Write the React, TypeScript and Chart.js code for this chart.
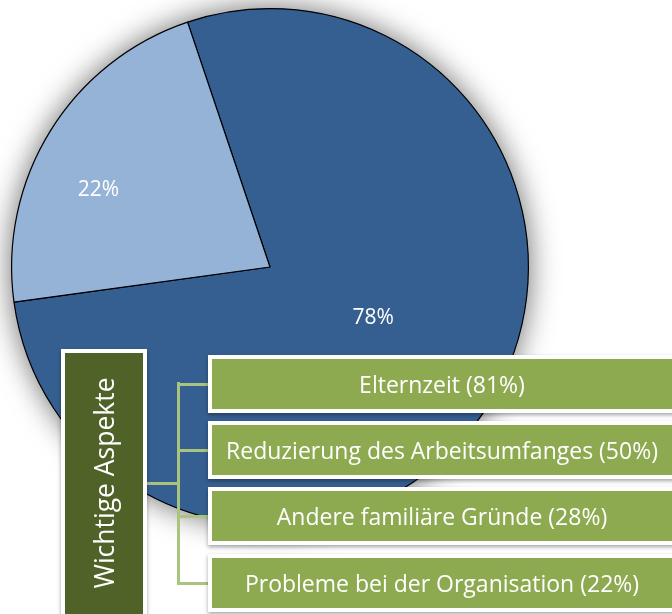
import React, { useEffect, useRef } from "react";
import { Chart, registerables } from "chart.js";

Chart.register(...registerables);

const sliceLabels = ["Andere", "Probleme bei der Organisation"];
const sliceValues = [78, 22];
const sliceText = ["78%", "22%"];
const sliceColors = ["#365f91", "#95b3d7"];
const labelRadius = [0.445, 0.727];
const labelAngleShift = [-5.5, -7.7];

const headerLabel = "Wichtige Aspekte";
const aspectLabels = [
  "Elternzeit (81%)",
  "Reduzierung des Arbeitsumfanges (50%)",
  "Andere familiäre Gründe (28%)",
  "Probleme bei der Organisation (22%)",
];

const FONT = "'Open Sans', 'Noto Sans', sans-serif";

const shadowPlugin = {
  id: "pieShadow",
  beforeDatasetsDraw(chart: any) {
    const arc = chart.getDatasetMeta(0).data[0];
    if (!arc) return;
    const ctx = chart.ctx;
    ctx.save();
    ctx.shadowColor = "rgba(0,0,0,0.6)";
    ctx.shadowBlur = 30;
    ctx.shadowOffsetX = 0;
    ctx.shadowOffsetY = 0;
    ctx.fillStyle = "#365f91";
    ctx.beginPath();
    ctx.arc(arc.x, arc.y, arc.outerRadius, 0, Math.PI * 2);
    ctx.fill();
    ctx.restore();
  },
};

const labelPlugin = {
  id: "sliceLabels",
  afterDatasetsDraw(chart: any) {
    const meta = chart.getDatasetMeta(0);
    const ctx = chart.ctx;
    ctx.save();
    ctx.fillStyle = "#ffffff";
    ctx.font = `21px ${FONT}`;
    ctx.textAlign = "center";
    ctx.textBaseline = "middle";
    meta.data.forEach((arc: any, i: number) => {
      const mid = (arc.startAngle + arc.endAngle) / 2 + (labelAngleShift[i] * Math.PI) / 180;
      const r = arc.outerRadius * labelRadius[i];
      ctx.fillText(sliceText[i], arc.x + Math.cos(mid) * r, arc.y + Math.sin(mid) * r);
    });
    ctx.restore();
  },
};

export default function App() {
  const ref = useRef<HTMLCanvasElement | null>(null);

  useEffect(() => {
    if (!ref.current) return;
    const chart = new Chart(ref.current, {
      type: "pie",
      data: {
        labels: sliceLabels,
        datasets: [
          {
            data: sliceValues,
            backgroundColor: sliceColors,
            borderColor: "#000000",
            borderWidth: 1.2,
          },
        ],
      },
      options: {
        animation: false,
        responsive: false,
        rotation: -18.6,
        layout: { padding: { left: 11, right: 143, top: 8, bottom: 88 } },
        plugins: {
          legend: { display: false },
          tooltip: { enabled: false },
        },
      },
      plugins: [shadowPlugin, labelPlugin],
    });
    return () => chart.destroy();
  }, []);

  const boxTops = [355, 421, 487, 554];
  const lineColor = "#a9c47f";

  return (
    <div
      style={{
        position: "absolute",
        left: 0,
        top: 0,
        width: 672,
        height: 614,
        overflow: "hidden",
        background: "#ffffff",
        fontFamily: FONT,
      }}
    >
      <canvas ref={ref} width={672} height={614} style={{ position: "absolute", left: 0, top: 0 }} />
      {/* connectors */}
      <div style={{ position: "absolute", left: 147, top: 482, width: 32, height: 3, background: lineColor }} />
      <div style={{ position: "absolute", left: 177, top: 382, width: 3, height: 201, background: lineColor }} />
      {boxTops.map((t, i) => (
        <div
          key={"c" + i}
          style={{ position: "absolute", left: 177, top: t + 28, width: 32, height: 3, background: lineColor }}
        />
      ))}
      {/* header box */}
      <div
        style={{
          position: "absolute",
          left: 61,
          top: 349,
          width: 86,
          height: 290,
          boxSizing: "border-box",
          border: "4px solid #ffffff",
          background: "#4f6228",
          boxShadow: "0 2px 4px rgba(0,0,0,0.35)",
        }}
      />
      <div
        style={{
          position: "absolute",
          left: 104,
          top: 483,
          transform: "translate(-50%, -50%) rotate(-90deg)",
          whiteSpace: "nowrap",
          color: "#ffffff",
          fontSize: 26.5,
          lineHeight: 1,
        }}
      >
        {headerLabel}
      </div>
      {/* aspect boxes */}
      {aspectLabels.map((lab, i) => (
        <div
          key={"b" + i}
          style={{
            position: "absolute",
            left: 208,
            top: boxTops[i],
            width: 468,
            height: 58,
            boxSizing: "border-box",
            border: "4px solid #ffffff",
            background: "#8eaa51",
            boxShadow: "0 2px 4px rgba(0,0,0,0.35)",
            color: "#ffffff",
            fontSize: 23,
            display: "flex",
            alignItems: "center",
            justifyContent: "center",
            whiteSpace: "nowrap",
          }}
        >
          {lab}
        </div>
      ))}
    </div>
  );
}
